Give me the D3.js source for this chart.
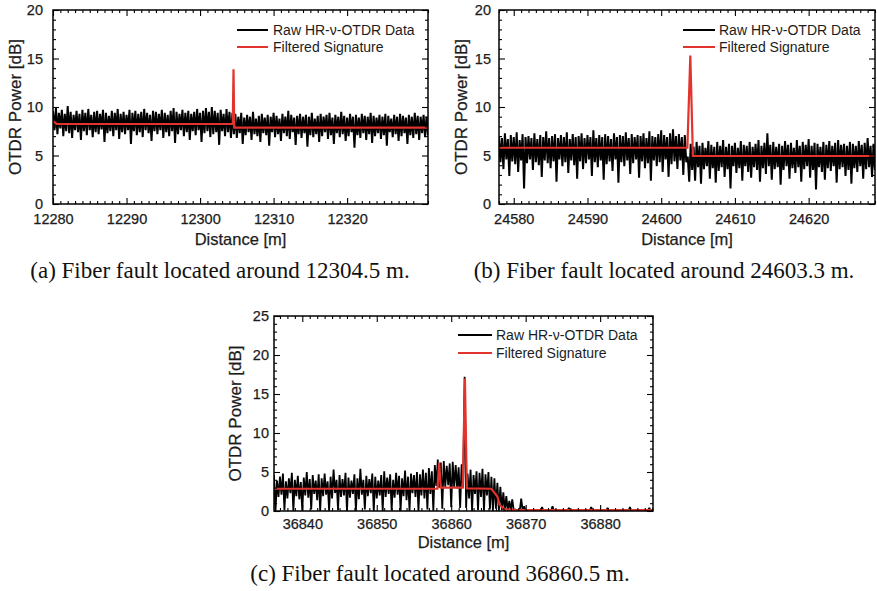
<!DOCTYPE html>
<html><head><meta charset="utf-8">
<script src="https://cdn.jsdelivr.net/npm/d3@7"></script>
<style>
body{margin:0;background:#fff}
svg{display:block}
text{font-family:"Liberation Sans",Arial,Helvetica,sans-serif}
</style>
</head><body>
<svg id="chart" width="877" height="591"></svg>
<script>
// ---------------- DATA ----------------
// Panel (a): raw samples every 0.2 m starting 12280 m
const rawStartA = 12280, rawStepA = 0.2;
const rawA = [
9.6,7.6,9.9,7.2,9.4,7.8,9.7,7.0,9.3,7.5,10.1,7.3,9.5,6.8,9.2,7.6,
9.6,7.4,9.3,6.6,9.7,7.5,9.4,7.1,9.8,7.6,9.2,6.9,9.5,7.4,9.6,7.2,
9.3,7.7,9.7,6.4,9.4,7.3,9.1,7.5,9.6,7.0,9.4,7.6,9.8,6.7,9.3,7.4,
9.5,7.2,9.2,7.6,9.7,6.2,9.4,7.5,9.6,7.1,9.3,7.4,9.5,6.9,9.8,7.6,
9.4,7.3,9.2,6.5,9.6,7.5,9.5,7.2,9.3,7.6,9.7,6.8,9.4,7.4,9.2,7.0,
9.6,7.5,9.9,6.3,9.5,7.2,9.3,7.6,9.7,7.0,9.4,7.4,9.6,6.6,9.3,7.5,
9.5,7.1,9.8,7.6,9.4,6.4,9.6,7.3,9.9,7.5,9.5,6.9,10.0,7.2,9.6,7.4,
9.4,6.1,9.7,7.5,9.3,7.0,9.8,7.4,9.5,6.8,9.4,
7.2,9.3,6.8,9.0,7.3,9.4,6.2,8.9,7.1,9.2,7.4,9.0,6.6,9.5,7.2,8.8,
7.0,9.1,6.4,9.3,7.3,8.9,7.1,9.2,6.0,9.0,7.4,9.4,6.9,9.1,7.2,8.8,
6.5,9.3,7.3,9.0,7.0,9.6,6.7,9.2,7.4,8.9,6.1,9.1,7.2,9.3,6.8,9.0,
7.3,9.2,5.9,9.0,7.1,9.4,6.9,8.8,7.2,9.1,6.4,9.3,7.0,9.0,7.4,9.2,
6.7,9.4,7.1,8.9,6.2,9.2,7.3,9.0,6.9,9.5,7.2,9.1,6.5,8.9,7.0,9.3,
7.4,9.0,5.8,9.2,7.1,8.9,6.8,9.3,7.3,9.1,6.6,9.0,7.2,9.4,6.3,9.1,
7.0,8.9,7.3,9.2,6.7,9.0,7.1,9.3,6.0,9.1,7.4,8.8,6.9,9.2,7.2,9.0,
6.5,9.3,7.0,9.1,7.3,8.9,6.2,9.2,7.1,9.0,6.8,9.4,7.2,9.1,6.6,9.0,
7.3,9.2,6.9,9.0,7.1
];
const filtXA = [12280, 12280.5, 12304.45, 12304.55, 12304.65, 12331];
const filtYA = [8.55, 8.25, 8.25, 13.9, 7.87, 7.87];
const xTicksA = [12280, 12290, 12300, 12310, 12320];
const yTicksA = [0, 5, 10, 15, 20];

// Panel (b): raw samples every 0.2 m starting 24578 m
const rawStartB = 24578, rawStepB = 0.2;
const rawB = [
7.0,4.3,6.8,3.6,7.3,4.6,6.7,2.9,7.1,4.4,6.9,4.1,7.4,3.3,6.6,4.5,
7.2,1.6,6.9,4.2,7.0,4.6,6.8,3.5,7.3,4.3,6.7,4.0,7.1,2.8,6.9,4.5,
7.5,4.2,6.8,3.7,7.0,4.4,7.2,2.3,6.8,4.6,7.1,3.9,6.9,4.3,7.4,3.2,
6.7,4.5,7.2,4.0,6.9,2.6,7.0,4.4,7.3,3.6,6.8,4.2,7.1,4.6,6.9,2.9,
7.6,4.3,6.8,3.8,7.1,4.5,6.9,2.5,7.2,4.1,7.0,4.4,6.7,3.4,7.3,4.6,
6.9,2.2,7.1,4.3,7.0,3.9,7.4,4.5,6.8,3.1,7.2,4.2,6.9,4.6,7.1,2.7,
7.0,4.4,7.3,3.7,6.8,4.2,7.5,2.4,7.0,4.5,6.9,3.9,7.2,4.3,7.6,3.3,
7.1,4.6,6.9,2.8,7.3,4.1,7.7,4.4,7.0,3.6,7.2,4.5,6.9,3.0,7.1,4.3,
4.9,2.3,6.2,3.5,5.9,2.4,6.4,3.8,6.0,2.1,6.3,3.6,5.8,3.9,6.5,2.6,
6.1,3.7,5.9,2.2,6.4,3.4,6.0,3.8,6.6,2.8,5.9,3.6,6.2,1.6,6.0,3.9,
6.3,3.2,5.8,3.7,6.5,2.4,6.1,3.9,6.0,3.3,6.4,2.7,5.9,3.8,6.2,3.5,
6.6,2.3,6.0,3.7,6.3,3.1,7.3,3.9,6.1,2.5,6.4,3.6,5.9,3.8,6.2,2.0,
6.0,3.5,6.5,3.9,6.1,2.6,6.3,3.7,5.8,3.2,6.6,3.8,6.0,2.3,6.4,3.6,
6.1,3.9,6.7,2.7,6.0,3.5,6.3,1.5,6.2,3.8,5.9,3.3,6.4,2.5,6.1,3.7,
6.5,3.4,6.0,3.9,6.3,2.2,6.6,3.6,6.1,3.8,6.2,2.9,6.0,3.5,6.4,2.1,
6.2,3.7,6.0,3.3,6.5,3.9,6.1,2.6,6.3,3.6,6.8,3.8,6.0,2.8,6.2,3.5
];
const filtXB = [24578, 24603.55, 24603.95, 24604.3, 24629];
const filtYB = [5.8, 5.8, 15.3, 4.95, 4.95];
const xTicksB = [24580, 24590, 24600, 24610, 24620];
const yTicksB = [0, 5, 10, 15, 20];

// Panel (c): raw samples every 0.2 m starting 36836.2 m
const rawStartC = 36836.2, rawStepC = 0.2;
const rawC = [
4.6,0.0,3.9,1.8,4.4,2.1,4.8,0.1,3.8,1.6,4.2,2.3,4.9,0.0,4.0,1.9,
4.5,1.5,3.7,0.0,4.3,2.0,5.0,1.7,4.1,0.2,4.6,2.2,3.9,1.4,4.7,0.0,
4.2,1.9,4.8,2.1,3.8,0.0,4.4,1.6,5.3,2.3,4.0,0.1,4.6,1.8,4.1,2.0,
4.9,0.0,4.3,1.7,3.9,2.2,4.7,0.0,4.2,1.5,5.4,2.1,4.0,0.2,4.5,1.9,
4.1,2.3,4.8,0.0,4.4,1.6,3.9,2.0,4.6,0.0,5.1,1.8,4.3,2.2,4.7,0.1,
4.0,1.7,4.9,2.1,4.5,0.0,4.2,1.9,5.2,1.4,4.4,0.0,4.8,2.3,4.6,1.8,
5.0,0.0,4.7,2.0,5.3,1.6,4.9,0.2,5.5,2.2,5.1,0.0,
5.9,3.2,6.6,3.0,6.2,0.3,6.4,3.1,5.8,3.3,6.1,0.5,6.3,3.0,5.9,2.9,5.6,0.4,6.0,
3.0,17.2,0.4,
4.8,1.6,5.3,0.0,4.6,2.2,5.1,0.1,4.9,1.8,5.4,0.0,4.7,2.0,5.0,0.2,4.4,
0.0,4.2,0.3,3.6,0.0,3.1,0.1,2.4,0.0,1.9,0.0,1.3,
0.1,1.5,0.0,0.2,0.0,0.1,0.0,1.6,0.0,0.6,0.0,0.1,0.0,0.0,0.1,0.0,
0.0,0.1,0.0,0.0,0.0,0.5,0.0,0.0,0.1,0.0,0.0,0.0,0.6,0.0,0.0,0.1,
0.0,0.0,0.0,0.0,0.1,0.0,0.0,0.4,0.0,0.0,0.0,0.1,0.0,0.0,0.0,0.0,
0.1,0.0,0.0,0.0,0.0,0.0,0.5,0.0,0.0,0.1,0.0,0.0,0.0,0.0,0.0,0.0,
0.0,0.4,0.0,0.0,0.1,0.0,0.0,0.0,0.0,0.0,0.1,0.0,0.0,0.0,0.0,0.0,
0.5,0.0,0.0,0.0,0.0,0.1,0.0,0.0,0.0,0.0,0.0,0.0,0.0,0.4,0.0,0.0
];
const filtXC = [36836.2, 36858.15, 36858.38, 36858.6, 36861.55, 36861.84, 36862.1, 36865.4, 36866.2, 36866.5, 36867.0, 36867.4, 36868.8, 36887.1];
const filtYC = [2.85, 2.85, 6.2, 3.0, 3.0, 17.0, 2.9, 2.85, 1.85, 0.8, 0.35, 0.22, 0.13, 0.13];
const xTicksC = [36840, 36850, 36860, 36870, 36880];
const yTicksC = [0, 5, 10, 15, 20, 25];

const legendLabels = ["Raw HR-\u03bd-OTDR Data", "Filtered Signature"];
const captions = [
  "(a) Fiber fault located around 12304.5 m.",
  "(b) Fiber fault located around 24603.3 m.",
  "(c) Fiber fault located around 36860.5 m."
];

// ---------------- LAYOUT ----------------
const panels = [
  {id:"a", raw:rawA, start:rawStartA, step:rawStepA, fx:filtXA, fy:filtYA, xt:xTicksA, yt:yTicksA,
   xDomain:[12280,12331], yDomain:[0,20], L:53, R:428, T:10, B:204, yPad:10, xPad:10, rawW:2.0,
   yLab:{x:15}, xLab:{y:245}, leg:{x1:237,x2:268,tx:273,y:30,dy:17}, cap:{x:220,y:278}},
  {id:"b", raw:rawB, start:rawStartB, step:rawStepB, fx:filtXB, fy:filtYB, xt:xTicksB, yt:yTicksB,
   xDomain:[24578,24629], yDomain:[0,20], L:499, R:875, T:10, B:204, yPad:8, xPad:10, rawW:2.0,
   yLab:{x:461}, xLab:{y:245}, leg:{x1:683,x2:715,tx:719,y:30,dy:17}, cap:{x:664,y:278}},
  {id:"c", raw:rawC, start:rawStartC, step:rawStepC, fx:filtXC, fy:filtYC, xt:xTicksC, yt:yTicksC,
   xDomain:[36836.2,36887.1], yDomain:[0,25], L:274, R:653, T:316, B:511, yPad:5, xPad:8, rawW:1.8,
   yLab:{x:235}, xLab:{y:548}, leg:{x1:458,x2:492,tx:496,y:335,dy:18}, cap:{x:440,y:581}}
];

const svg = d3.select("#chart");
svg.append("rect").attr("width",877).attr("height",591).attr("fill","#fff");
const RED = "#e2332c";
const TXT = "#1c1c1c";

panels.forEach(p => {
  const x = d3.scaleLinear().domain(p.xDomain).range([p.L, p.R]);
  const y = d3.scaleLinear().domain(p.yDomain).range([p.B, p.T]);
  const g = svg.append("g");
  const clipId = "clip-" + p.id;
  svg.append("clipPath").attr("id", clipId).append("rect")
    .attr("x", p.L).attr("y", p.T - 1).attr("width", p.R - p.L).attr("height", p.B - p.T + 1);

  const line = d3.line().x(d => x(d[0])).y(d => y(d[1]));
  const rawPts = p.raw.map((v, i) => [p.start + i * p.step, v]);
  g.append("path").datum(rawPts).attr("d", line)
    .attr("fill","none").attr("stroke","#000").attr("stroke-width",p.rawW)
    .attr("stroke-linejoin","bevel").attr("clip-path", `url(#${clipId})`);
  const filtPts = p.fx.map((v, i) => [v, p.fy[i]]);
  g.append("path").datum(filtPts).attr("d", line)
    .attr("fill","none").attr("stroke",RED).attr("stroke-width",2.2)
    .attr("clip-path", `url(#${clipId})`);

  const xMinor = d3.range(Math.ceil(p.xDomain[0]), Math.floor(p.xDomain[1]) + 1).filter(v => v % 10 !== 0);
  const yMinor = d3.range(p.yDomain[0], p.yDomain[1] + 1).filter(v => v % 5 !== 0);

  function styleAxis(sel){
    sel.select(".domain").remove();
    sel.selectAll("line").attr("stroke","#000").attr("stroke-width",1.1);
    sel.selectAll("text").attr("fill",TXT).style("font-size","14.5px")
      .attr("stroke",TXT).attr("stroke-width",0.25);
  }
  g.append("g").attr("transform",`translate(0,${p.B})`)
    .call(d3.axisBottom(x).tickValues(p.xt).tickFormat(d3.format("d")).tickSize(-6).tickSizeOuter(0).tickPadding(p.xPad))
    .call(styleAxis);
  g.append("g").attr("transform",`translate(0,${p.B})`)
    .call(d3.axisBottom(x).tickValues(xMinor).tickFormat("").tickSize(-3).tickSizeOuter(0)).call(styleAxis);
  g.append("g").attr("transform",`translate(0,${p.T})`)
    .call(d3.axisTop(x).tickValues(p.xt).tickFormat("").tickSize(-6).tickSizeOuter(0)).call(styleAxis);
  g.append("g").attr("transform",`translate(0,${p.T})`)
    .call(d3.axisTop(x).tickValues(xMinor).tickFormat("").tickSize(-3).tickSizeOuter(0)).call(styleAxis);
  g.append("g").attr("transform",`translate(${p.L},0)`)
    .call(d3.axisLeft(y).tickValues(p.yt).tickFormat(d3.format("d")).tickSize(-6).tickSizeOuter(0).tickPadding(p.yPad))
    .call(styleAxis);
  g.append("g").attr("transform",`translate(${p.L},0)`)
    .call(d3.axisLeft(y).tickValues(yMinor).tickFormat("").tickSize(-3).tickSizeOuter(0)).call(styleAxis);
  g.append("g").attr("transform",`translate(${p.R},0)`)
    .call(d3.axisRight(y).tickValues(p.yt).tickFormat("").tickSize(-6).tickSizeOuter(0)).call(styleAxis);
  g.append("g").attr("transform",`translate(${p.R},0)`)
    .call(d3.axisRight(y).tickValues(yMinor).tickFormat("").tickSize(-3).tickSizeOuter(0)).call(styleAxis);

  g.append("rect").attr("x",p.L).attr("y",p.T).attr("width",p.R-p.L).attr("height",p.B-p.T)
    .attr("fill","none").attr("stroke","#000").attr("stroke-width",1.5);

  g.append("text").attr("transform",`translate(${p.yLab.x},${(p.T+p.B)/2}) rotate(-90)`)
    .attr("text-anchor","middle").attr("dominant-baseline","central")
    .attr("fill",TXT).attr("stroke",TXT).attr("stroke-width",0.25).style("font-size","17px")
    .text("OTDR Power [dB]");
  g.append("text").attr("x",(p.L+p.R)/2).attr("y",p.xLab.y)
    .attr("text-anchor","middle").attr("fill",TXT).attr("stroke",TXT).attr("stroke-width",0.25)
    .style("font-size","16.5px")
    .text("Distance [m]");

  const lg = g.append("g");
  [["#000",2],[RED,2]].forEach((s, i) => {
    lg.append("line").attr("x1",p.leg.x1).attr("x2",p.leg.x2)
      .attr("y1",p.leg.y + i*p.leg.dy).attr("y2",p.leg.y + i*p.leg.dy)
      .attr("stroke",s[0]).attr("stroke-width",s[1]);
    lg.append("text").attr("x",p.leg.tx).attr("y",p.leg.y + i*p.leg.dy)
      .attr("dominant-baseline","central").attr("fill",TXT).style("font-size","14px")
      .text(legendLabels[i]);
  });
});

panels.forEach((p, i) => {
  svg.append("text").attr("x",p.cap.x).attr("y",p.cap.y).attr("text-anchor","middle")
    .style("font-family",'"Liberation Serif","Times New Roman",Times,serif')
    .style("font-size","23px").attr("fill","#111").text(captions[i]);
});
</script>
</body></html>
